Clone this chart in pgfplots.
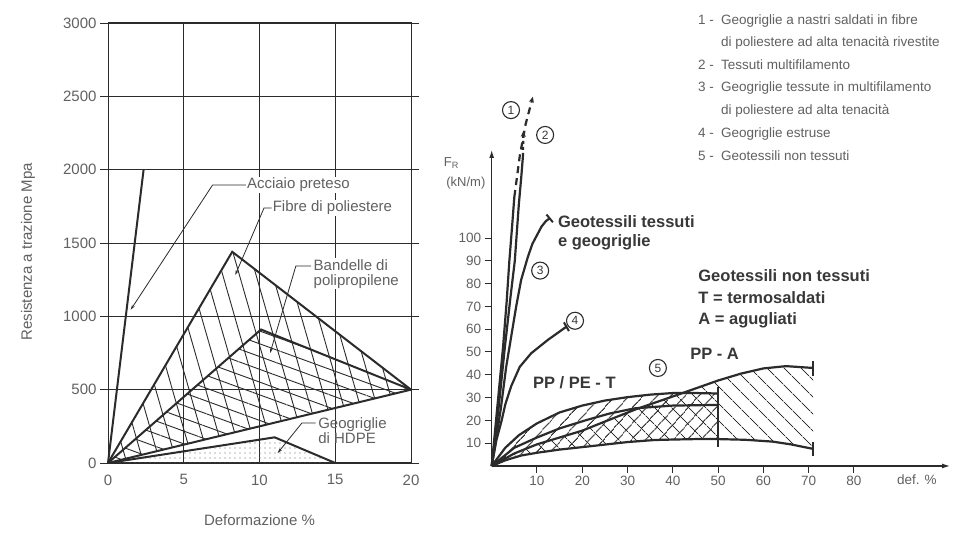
\documentclass[border=0pt]{standalone}
\usepackage{pgfplots}
\pgfplotsset{compat=1.18}
\usetikzlibrary{patterns,patterns.meta,arrows.meta}
\usepackage{fontspec}
\setmainfont{Liberation Sans}
\definecolor{tx}{gray}{0.38}
\definecolor{ln}{gray}{0.17}
\definecolor{bt}{gray}{0.22}
\newcommand{\fs}[1]{\fontsize{#1}{#1}\selectfont}
\tikzset{circnum/.style={draw=ln, circle, line width=1.1pt, inner sep=0pt, minimum size=17pt, font=\fs{12}, text=bt}}
\begin{document}
\begin{tikzpicture}[x=1pt,y=1pt]
\path[use as bounding box, fill=white] (0,0) rectangle (962,543);
% ---------------- left chart ----------------
\begin{axis}[
  at={(108pt,80pt)}, anchor=south west,
  scale only axis, width=303pt, height=440pt,
  xmin=0,xmax=20,ymin=0,ymax=3000,
  xtick={0,5,10,15,20}, ytick={0,500,1000,1500,2000,2500,3000},
  grid=major, grid style={ln, line width=0.9pt},
  axis line style={ln, line width=1pt},
  tick align=outside, major tick length=8pt,
  xtick style={draw=none}, ytick style={ln, line width=0.9pt},
  ticklabel style={font=\fs{15}, text=tx},
  /pgf/number format/assume math mode=true,
  /pgf/number format/1000 sep={},
  xlabel={Deformazione \%}, ylabel={Resistenza a trazione Mpa},
  label style={font=\fs{15}, text=tx},
  x label style={at={(axis description cs:0.5,-0.13)}, anchor=center},
  y label style={at={(axis description cs:-0.264,0.48)}, anchor=center},
  clip=false,
]
% hatching
\addplot[draw=none, pattern={Lines[angle=-74,distance=16pt,line width=0.9pt]}, pattern color=ln]
  coordinates {(0,0) (8.2,1440) (20,500) (0,0)};
\addplot[draw=none, pattern={Lines[angle=-20,distance=12pt,line width=0.9pt]}, pattern color=ln]
  coordinates {(0,0) (10.1,910) (20,500) (0,0)};
\addplot[draw=none, pattern={Dots[distance=5pt,radius=0.55pt]}, pattern color=gray!85!black]
  coordinates {(0,0) (11,175) (15,0) (0,0)};
% outlines
\addplot[ln, line width=2pt] coordinates {(0,0) (2.35,2000)};
\addplot[ln, line width=2pt] coordinates {(0,0) (8.2,1440) (20,500)};
\addplot[ln, line width=2pt] coordinates {(0,0) (10.1,910) (20,500)};
\addplot[ln, line width=2pt] coordinates {(0,0) (20,500)};
\addplot[ln, line width=2pt] coordinates {(0,0) (11,175) (15,0)};
% labels
\node[anchor=west, fill=white, inner sep=1pt, text=tx, font=\fs{15}] at (axis cs:9.1,1895) {Acciaio preteso};
\draw[ln, line width=0.8pt, -{Stealth[length=5pt,width=3pt]}] (axis cs:9.1,1895) -- (axis cs:6.9,1895) -- (axis cs:1.5,1045);
\node[anchor=west, fill=white, inner sep=1pt, text=tx, font=\fs{15}] at (axis cs:10.8,1739) {Fibre di poliestere};
\draw[ln, line width=0.8pt, -{Stealth[length=5pt,width=3pt]}] (axis cs:10.8,1739) -- (axis cs:10.3,1739) -- (axis cs:8.4,1282);
\node[anchor=west, fill=white, inner sep=1pt, text=tx, font=\fs{15}, align=left] at (axis cs:13.5,1289) {Bandelle di\\polipropilene};
\draw[ln, line width=0.8pt, -{Stealth[length=5pt,width=3pt]}] (axis cs:13.4,1343) -- (axis cs:12.4,1343) -- (axis cs:10.7,750);
\node[anchor=west, inner sep=1pt, text=tx, font=\fs{15}, align=left] at (axis cs:13.8,218) {Geogriglie\\di HDPE};
\draw[ln, line width=0.8pt, -{Stealth[length=5pt,width=3pt]}] (axis cs:13.7,273) -- (axis cs:12.8,273) -- (axis cs:11.2,68);
\end{axis}
% ---------------- right chart ----------------
\begin{axis}[
  at={(491.7pt,77pt)}, anchor=south west,
  scale only axis, width=458.3pt, height=316pt,
  xmin=0,xmax=101.2,ymin=0,ymax=138.6,
  axis lines=left,
  axis line style={ln, line width=1.2pt},
  every outer x axis line/.append style={-{Latex[length=8pt,width=5pt]}},
  every outer y axis line/.append style={-{Latex[length=8pt,width=5pt]}},
  xtick={10,20,30,40,50,60,70,80}, ytick={10,20,30,40,50,60,70,80,90,100},
  tick align=outside, major tick length=7pt,
  tick style={ln, line width=1pt},
  ticklabel style={font=\fs{13.5}, text=tx},
  /pgf/number format/assume math mode=true,
  clip=false,
]
% nonwoven hatch
\addplot[draw=none, pattern={Lines[angle=48,distance=10.5pt,line width=1pt]}, pattern color=ln]
  coordinates {(0,0)(3,8)(6,13.5)(10,18.7)(15,23.5)(20,26.5)(25,28.7)(30,30.2)(35,31.3)(40,32)(45,32)(50,31.8)
  (50,11.8)(45,11.8)(40,11.6)(36,11.4)(30,10.5)(21,8.5)(15,7.2)(10,5.8)(6.5,4.6)(3,2.5)(0,0)};
\addplot[draw=none, pattern={Lines[angle=-45,distance=13pt,line width=1pt]}, pattern color=ln]
  coordinates {(0,0)(5,5.5)(10,9.5)(15,12.5)(20,15.5)(25,19.5)(32,25)(40,30.5)(45,34)(50,37.5)(55,40.5)(60,42.8)(65,43.8)(71,43)
  (71,7.5)(66,9.5)(62,10.7)(56,11.5)(50,11.8)(45,11.8)(40,11.6)(36,11.4)(30,10.5)(21,8.5)(15,7.2)(10,5.8)(6.5,4.6)(3,2.5)(0,0)};
% nonwoven curves
\addplot[ln, line width=2.2pt] coordinates {(0,0)(3,8)(6,13.5)(10,18.7)(15,23.5)(20,26.5)(25,28.7)(30,30.2)(35,31.3)(40,32)(45,32)(50,31.8)};
\addplot[ln, line width=2.2pt] coordinates {(0,0)(5,8)(10,12.5)(15,16.5)(21,20.2)(26,23)(31.6,25.3)(40,26.5)(50,26.8)};
\addplot[ln, line width=2.2pt] coordinates {(0,0)(5,5.5)(10,9.5)(15,12.5)(20,15.5)(25,19.5)(32,25)(40,30.5)(45,34)(50,37.5)(55,40.5)(60,42.8)(65,43.8)(71,43)};
\addplot[ln, line width=2.2pt] coordinates {(0,0)(3,2.5)(6.5,4.6)(10,5.8)(15,7.2)(21,8.5)(30,10.5)(36,11.4)(40,11.6)(45,11.8)(50,11.8)(56,11.5)(62,10.7)(66,9.5)(71,7.5)};
% end bars
\addplot[ln, line width=2.2pt] coordinates {(50,8.5)(50,34.5)};
\addplot[ln, line width=2.2pt] coordinates {(71,39.5)(71,46)};
\addplot[ln, line width=2.2pt] coordinates {(71,4.5)(71,10.5)};
% curve 4
\addplot[ln, line width=2.2pt, mark=|, mark indices={9}, mark size=5pt, mark options={solid, rotate=30, line width=2pt}]
  coordinates {(0,0)(1,11)(2.2,20)(3,27)(4.3,35)(6.2,43.5)(8.7,49.4)(12.4,55.3)(16.5,61.1)};
% curve 3
\addplot[ln, line width=2.2pt, mark=|, mark indices={13}, mark size=5pt, mark options={solid, rotate=40, line width=2pt}]
  coordinates {(0,0)(1,12)(2,25)(3.2,43.5)(4.3,56.7)(5.4,69.9)(6.5,81.6)(8,91.8)(9,97.5)(10.2,102)(11,105)(12,107.5)(12.8,108.6)};
% curve 2
\addplot[ln, line width=2.2pt] coordinates {(0,0)(1.5,25)(2.9,52)(4.2,75)(5.1,90)(6,115)(6.5,126)(6.9,136)};
\addplot[ln, line width=2.2pt, dashed, -{Stealth[length=6pt,width=5pt]}] coordinates {(6.9,136)(7.0,147)};
% curve 1
\addplot[ln, line width=2.2pt] coordinates {(0,0)(1.2,25)(2.5,52)(3.3,72)(3.9,90)(4.5,105)(5,118)};
\addplot[ln, line width=2.2pt, dash pattern=on 7pt off 5pt, -{Stealth[length=6pt,width=5pt]}] coordinates {(5,118)(6.2,136)(7.5,150)(9.1,162)};
% circled numbers
\node[circnum] at (axis cs:4.26,156.1) {1};
\node[circnum] at (axis cs:11.8,145.2) {2};
\node[circnum] at (axis cs:10.7,85.7) {3};
\node[circnum] at (axis cs:18.4,63.7) {4};
\node[circnum] at (axis cs:36.7,43) {5};
% labels
\node[anchor=west, font=\bfseries\fs{16.5}, text=bt, align=left, inner sep=0pt] at (axis cs:14.6,102.4) {Geotessili tessuti\\[3pt]e geogriglie};
\node[anchor=west, font=\bfseries\fs{16.5}, text=bt, align=left, inner sep=0pt] at (axis cs:45.6,73.2) {Geotessili non tessuti\\[5pt]T = termosaldati\\[5pt]A = agugliati};
\node[anchor=west, font=\bfseries\fs{16.5}, text=bt, inner sep=0pt] at (axis cs:9.1,36.4) {PP / PE - T};
\node[anchor=west, font=\bfseries\fs{16.5}, text=bt, inner sep=0pt] at (axis cs:43.8,49.1) {PP - A};
\node[font=\fs{13.5}, text=tx] at (axis cs:93.9,-6.1) {def. \%};
\node[anchor=west, font=\fs{13}, text=tx, inner sep=0pt] at (axis cs:-10.6,132.9) {F$_\mathrm{R}$};
\node[font=\fs{13}, text=tx, inner sep=0pt] at (axis cs:-5.7,124.1) {(kN/m)};
\end{axis}
% legend list
\begin{scope}[every node/.style={anchor=base west, inner sep=0pt, text=tx, font=\fs{13.5}}]
\node at (698,518) {1 -}; \node at (721,518) {Geogriglie a nastri saldati in fibre};
\node at (721,496) {di poliestere ad alta tenacità rivestite};
\node at (698,473) {2 -}; \node at (721,473) {Tessuti multifilamento};
\node at (698,451) {3 -}; \node at (721,451) {Geogriglie tessute in multifilamento};
\node at (721,428) {di poliestere ad alta tenacità};
\node at (698,405) {4 -}; \node at (721,405) {Geogriglie estruse};
\node at (698,382) {5 -}; \node at (721,382) {Geotessili non tessuti};
\end{scope}
\end{tikzpicture}
\end{document}
